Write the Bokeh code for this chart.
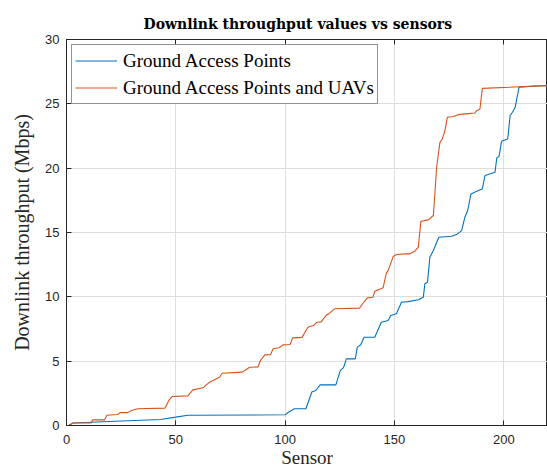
from bokeh.plotting import figure
from bokeh.models import LinearAxis, FixedTicker, Legend, LegendItem
from bokeh.embed import file_html
from bokeh.resources import INLINE

# Data (sensor index, downlink throughput in Mbps)
gap_sensor = [1, 3, 22, 43, 50, 55.5, 100, 101.5, 104.3, 109.5,
              112.2, 114, 116, 123.2, 125.2, 126.7, 128, 132.1, 133, 134.6,
              136.1, 141, 144, 147.1, 148.3, 150.9, 153.2, 156.3, 160.9, 163.2,
              163.9, 165.1, 166.2, 167.8, 170.3, 176.1, 178.4, 180.7, 182.2, 183.5,
              185, 188.4, 190.2, 191.4, 196, 196.8, 197.8, 199, 201.8, 202.9,
              204, 205.2, 207, 216.7, 220]
gap_thr = [0, 0.2, 0.33, 0.47, 0.65, 0.8, 0.83, 1.03, 1.3, 1.3,
           2.6, 2.72, 3.16, 3.16, 4.27, 4.5, 5.18, 5.18, 6.09, 6.27,
           6.86, 6.86, 8.03, 8.16, 8.55, 8.68, 9.58, 9.63, 9.77, 9.97,
           11.01, 11.14, 13.08, 13.6, 14.63, 14.71, 14.84, 15.15, 16.18, 16.71,
           18.0, 18.26, 18.39, 19.43, 19.68, 20.8, 20.9, 22.09, 22.27, 24.09,
           24.35, 24.73, 26.3, 26.4, 26.42]

uav_sensor = [1, 3, 11.3, 12, 17.4, 18.5, 23.4, 24.5, 28, 30,
              32.6, 45, 47, 48.3, 55.5, 57.8, 62.4, 65.4, 67, 70,
              71.2, 80.4, 81.5, 83.8, 87.6, 88.7, 90.7, 93.3, 94.5, 97.2,
              99, 102.3, 103.4, 107.7, 110.4, 113, 114.5, 116.5, 118.7, 119.9,
              122.6, 134, 135.6, 137.6, 140.2, 141, 142.5, 144.8, 146.3, 147.1,
              149.4, 150.9, 155, 157, 159.3, 160.9, 162.1, 165.5, 167.8, 169.3,
              170.8, 171.9, 173.1, 174.2, 177, 179.2, 182.6, 186.8, 187.6, 189.1,
              190.2, 220]
uav_thr = [0, 0.2, 0.2, 0.44, 0.44, 0.8, 0.85, 1.0, 1.0, 1.19,
           1.3, 1.35, 2.0, 2.25, 2.3, 2.77, 2.93, 3.37, 3.5, 3.75,
           4.06, 4.15, 4.27, 4.53, 4.55, 5.05, 5.49, 5.5, 5.96, 6.04,
           6.27, 6.3, 6.81, 6.85, 7.64, 7.77, 8.03, 8.05, 8.55, 8.68,
           9.07, 9.12, 9.5, 9.92, 9.97, 10.44, 10.54, 10.7, 11.84, 12.04,
           13.13, 13.29, 13.34, 13.34, 13.55, 13.86, 15.88, 15.98, 16.32, 20.07,
           22.01, 22.27, 22.92, 23.96, 24.01, 24.16, 24.22, 24.29, 24.47, 24.6,
           26.2, 26.42]

x_ticks = [0, 50, 100, 150, 200]
y_ticks = [0, 5, 10, 15, 20, 25, 30]
series_names = ["Ground Access Points", "Ground Access Points and UAVs"]
x_label = "Sensor"
y_label = "Downlink throughput (Mbps)"

DARK = "#262626"
SERIF = "Liberation Serif"
SANS = "Liberation Sans"

p = figure(width=547, height=470, x_range=(0, 220), y_range=(0, 30),
           output_backend="svg", toolbar_location=None,
           min_border_left=66, min_border_right=0, min_border_top=39,
           min_border_bottom=45,
           title="Downlink throughput values vs sensors")

p.title.text_font = "DejaVu Serif"
p.title.text_font_size = "14px"
p.title.text_font_style = "bold"
p.title.text_color = "#000000"
p.title.align = "left"
p.title.offset = 77
p.title.standoff = 16

p.outline_line_color = DARK
p.outline_line_width = 1
p.background_fill_color = "white"
p.border_fill_color = "white"

for ax in (p.xaxis[0], p.yaxis[0]):
    ax.axis_line_color = DARK
    ax.major_tick_line_color = DARK
    ax.major_tick_in = 5
    ax.major_tick_out = 0
    ax.minor_tick_line_color = None
    ax.major_label_text_font = SANS
    ax.major_label_text_font_size = "13px"
    ax.major_label_text_color = DARK
    ax.axis_label_text_font = SERIF
    ax.axis_label_text_font_style = "normal"
    ax.axis_label_text_color = DARK

p.xaxis[0].ticker = FixedTicker(ticks=x_ticks)
p.yaxis[0].ticker = FixedTicker(ticks=y_ticks)
p.xaxis[0].axis_label = x_label
p.yaxis[0].axis_label = y_label
p.xaxis[0].axis_label_text_font_size = "19px"
p.yaxis[0].axis_label_text_font_size = "20px"
p.xaxis[0].major_label_standoff = 9
p.xaxis[0].axis_label_standoff = 0
p.yaxis[0].major_label_standoff = 7
p.yaxis[0].axis_label_standoff = 9

top = LinearAxis(ticker=FixedTicker(ticks=x_ticks))
top.axis_line_color = DARK
top.major_tick_line_color = DARK
top.major_tick_in = 5
top.major_tick_out = 0
top.minor_tick_line_color = None
top.major_label_overrides = {t: "" for t in x_ticks}
top.major_label_standoff = 0
p.add_layout(top, "above")

p.xgrid.ticker = FixedTicker(ticks=x_ticks)
p.ygrid.ticker = FixedTicker(ticks=y_ticks)
p.grid.grid_line_color = "#dedede"
p.grid.grid_line_width = 1

r1 = p.line(gap_sensor, gap_thr, line_color="#0072BD", line_width=1.1)
r2 = p.line(uav_sensor, uav_thr, line_color="#D95319", line_width=1.1)

legend = Legend(items=[LegendItem(label=series_names[0], renderers=[r1]),
                       LegendItem(label=series_names[1], renderers=[r2])],
                location="top_left")
legend.margin = 5
legend.padding = 3
legend.spacing = 2
legend.glyph_width = 42
legend.glyph_height = 25
legend.label_height = 25
legend.label_standoff = 6
legend.label_text_font = SERIF
legend.label_text_font_size = "19px"
legend.label_text_color = "#000000"
legend.border_line_color = DARK
legend.border_line_width = 1
legend.background_fill_color = "white"
legend.background_fill_alpha = 1
p.add_layout(legend)

open("out.html", "w").write(file_html(p, INLINE))
